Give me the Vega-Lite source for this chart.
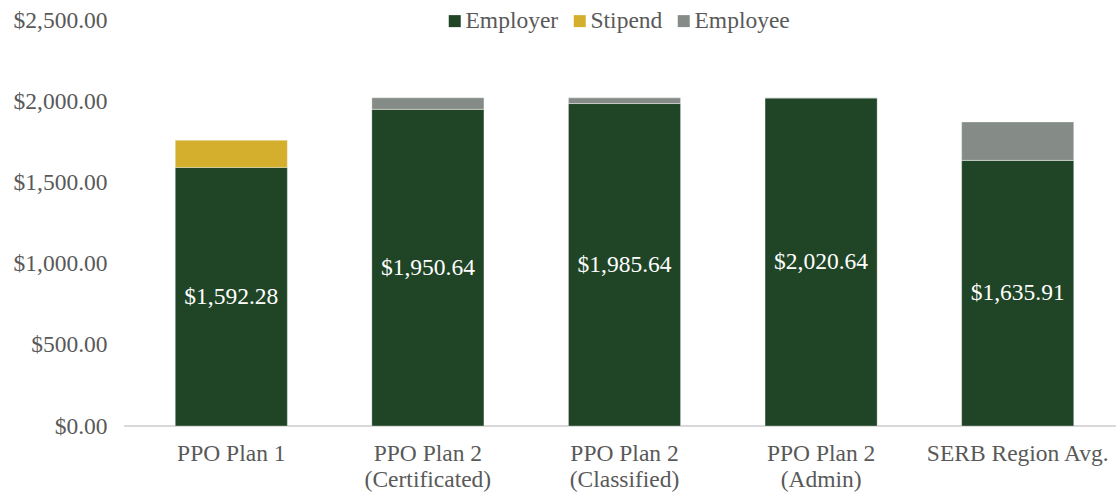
{
  "$schema": "https://vega.github.io/schema/vega-lite/v6.json",
  "width": 992,
  "height": 406,
  "autosize": "none",
  "padding": {"left": 124, "top": 20, "right": 0, "bottom": 69},
  "background": "white",
  "config": {
    "font": "Liberation Serif",
    "view": {"stroke": null},
    "axis": {"labelFont": "Liberation Serif", "labelFontSize": 23.5, "labelColor": "#595959", "titleFont": "Liberation Serif"},
    "legend": {"labelFont": "Liberation Serif", "labelFontSize": 23.5, "labelColor": "#595959"}
  },
  "data": {
    "values": [
      {"plan": "PPO Plan 1", "type": "Employer", "value": 1592.28, "order": 1},
      {"plan": "PPO Plan 1", "type": "Stipend", "value": 168.36, "order": 2},
      {"plan": "PPO Plan 1", "type": "Employee", "value": 0, "order": 3},
      {"plan": "PPO Plan 2|(Certificated)", "type": "Employer", "value": 1950.64, "order": 1},
      {"plan": "PPO Plan 2|(Certificated)", "type": "Stipend", "value": 0, "order": 2},
      {"plan": "PPO Plan 2|(Certificated)", "type": "Employee", "value": 70, "order": 3},
      {"plan": "PPO Plan 2|(Classified)", "type": "Employer", "value": 1985.64, "order": 1},
      {"plan": "PPO Plan 2|(Classified)", "type": "Stipend", "value": 0, "order": 2},
      {"plan": "PPO Plan 2|(Classified)", "type": "Employee", "value": 35, "order": 3},
      {"plan": "PPO Plan 2|(Admin)", "type": "Employer", "value": 2020.64, "order": 1},
      {"plan": "PPO Plan 2|(Admin)", "type": "Stipend", "value": 0, "order": 2},
      {"plan": "PPO Plan 2|(Admin)", "type": "Employee", "value": 0, "order": 3},
      {"plan": "SERB Region Avg.", "type": "Employer", "value": 1635.91, "order": 1},
      {"plan": "SERB Region Avg.", "type": "Stipend", "value": 0, "order": 2},
      {"plan": "SERB Region Avg.", "type": "Employee", "value": 236, "order": 3}
    ]
  },
  "layer": [
    {
      "mark": {"type": "rule", "color": "#d9d9d9", "strokeWidth": 1.5},
      "encoding": {"y": {"datum": 0, "type": "quantitative"}}
    },
    {
      "mark": {"type": "bar", "stroke": "white", "strokeWidth": 0.6, "strokeOpacity": 0.5},
      "encoding": {
        "x": {
          "field": "plan",
          "type": "nominal",
          "sort": null,
          "scale": {"range": [9, 992], "paddingInner": 0.43, "paddingOuter": 0.215},
          "axis": {
            "title": null,
            "labelAngle": 0,
            "labelExpr": "split(datum.label, '|')",
            "labelLineHeight": 26,
            "labelPadding": 15,
            "labelBaseline": "top",
            "labelLimit": 400,
            "ticks": false,
            "domain": false
          }
        },
        "y": {
          "field": "value",
          "type": "quantitative",
          "stack": "zero",
          "scale": {"domain": [0, 2500], "nice": false},
          "axis": {
            "title": null,
            "format": "$,.2f",
            "values": [0, 500, 1000, 1500, 2000, 2500],
            "labelOverlap": false,
            "labelFlush": false,
            "grid": false,
            "ticks": false,
            "domain": false,
            "labelPadding": 17
          }
        },
        "color": {
          "field": "type",
          "type": "nominal",
          "scale": {"domain": ["Employer", "Stipend", "Employee"], "range": ["#204526", "#D4AF2E", "#858C87"]},
          "legend": {
            "title": null,
            "orient": "none",
            "direction": "horizontal",
            "legendX": 319,
            "legendY": -11,
            "symbolType": "square",
            "symbolSize": 144,
            "symbolStrokeWidth": 0,
            "labelOffset": -1,
            "columnPadding": 9
          }
        },
        "order": {"field": "order", "type": "quantitative"}
      }
    },
    {
      "transform": [
        {"filter": "datum.type === 'Employer'"},
        {"calculate": "datum.value / 2", "as": "mid"}
      ],
      "mark": {"type": "text", "color": "white", "fontSize": 23.5, "font": "Liberation Serif", "baseline": "middle"},
      "encoding": {
        "x": {"field": "plan", "type": "nominal", "sort": null},
        "y": {"field": "mid", "type": "quantitative"},
        "text": {"field": "value", "type": "quantitative", "format": "$,.2f"}
      }
    }
  ]
}
